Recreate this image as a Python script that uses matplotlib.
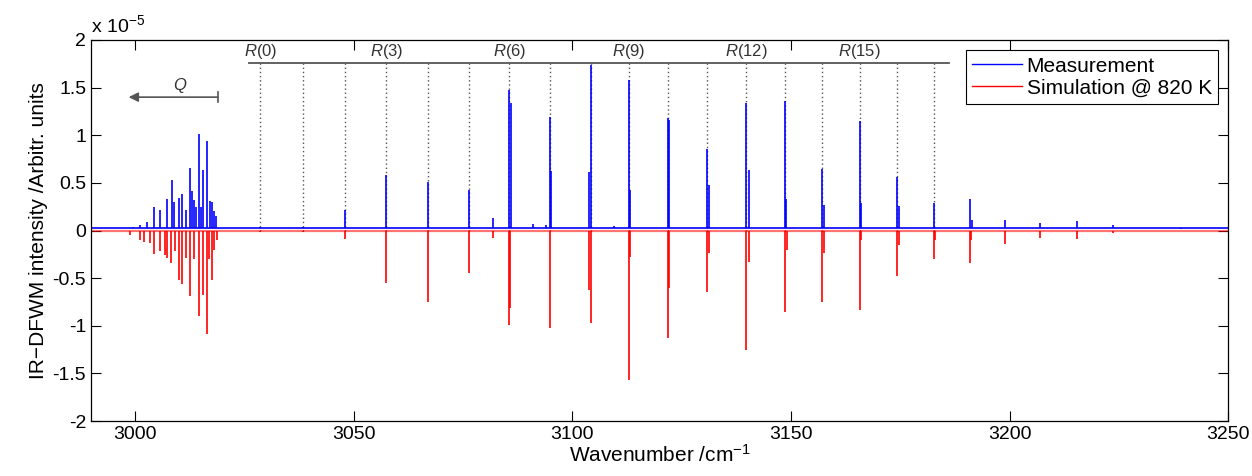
import numpy as np
import matplotlib.pyplot as plt

plt.rcParams['font.family'] = ['Liberation Sans', 'DejaVu Sans']
plt.rcParams['mathtext.fontset'] = 'custom'
plt.rcParams['mathtext.rm'] = 'Liberation Sans'
plt.rcParams['mathtext.it'] = 'Liberation Sans:italic'
plt.rcParams['axes.unicode_minus'] = False

# measured peaks (cm^-1, intensity in 1e-5)
meas_pos = [2997.8, 2999.5, 3001.1, 3002.8, 3004.5, 3005.7, 3007.4, 3008.4, 3008.9,
            3010.0, 3010.8, 3011.6, 3012.55, 3013.1, 3013.6, 3014.1, 3014.7, 3015.2,
            3015.7, 3016.5, 3017.1, 3017.7, 3018.2, 3018.6,
            3028.7, 3038.5, 3048.0, 3057.5, 3067.1, 3076.4, 3082.0,
            3085.6, 3085.9, 3091.1, 3093.9, 3094.9, 3095.2, 3103.9, 3104.2, 3109.6,
            3112.9, 3113.2, 3121.9, 3122.1, 3130.8, 3131.3, 3139.8, 3140.3,
            3148.6, 3148.9, 3157.2, 3157.6, 3165.7, 3166.0, 3174.3, 3174.7,
            3182.6, 3190.9, 3191.3, 3199.0, 3207.0, 3215.3, 3223.6, 3230.5, 3239.1]
meas_height = [0.03, 0.04, 0.06, 0.09, 0.245, 0.22, 0.33, 0.527, 0.30,
               0.34, 0.38, 0.21, 0.66, 0.41, 0.32, 0.25, 1.013, 0.25,
               0.635, 0.94, 0.31, 0.30, 0.20, 0.15,
               0.04, 0.04, 0.22, 0.58, 0.51, 0.425, 0.13,
               1.475, 1.34, 0.07, 0.06, 1.19, 0.62, 0.61, 1.74, 0.05,
               1.58, 0.43, 1.18, 1.16, 0.86, 0.48, 1.335, 0.635,
               1.36, 0.33, 0.65, 0.27, 1.15, 0.29, 0.565, 0.26,
               0.285, 0.33, 0.11, 0.11, 0.075, 0.10, 0.06, 0.03, 0.02]

# simulated peaks (drawn downwards)
sim_pos = [2999.0, 3001.3, 3002.0, 3003.4, 3004.4, 3005.7, 3007.0, 3007.4, 3008.3,
           3009.1, 3010.0, 3010.8, 3011.6, 3012.55, 3013.5, 3014.6, 3015.6, 3016.4,
           3017.0, 3017.7, 3018.2, 3018.7,
           3028.7, 3038.5, 3048.0, 3057.5, 3067.1, 3076.4, 3082.0,
           3085.6, 3085.8, 3094.9, 3103.9, 3104.2, 3112.9, 3113.2,
           3121.9, 3122.2, 3130.8, 3131.3, 3139.8, 3140.3, 3148.6, 3149.0,
           3157.2, 3157.6, 3165.7, 3166.0, 3174.3, 3174.7, 3182.6, 3182.9,
           3190.9, 3191.2, 3199.0, 3207.0, 3215.3, 3223.6]
sim_height = [-0.05, -0.10, -0.12, -0.13, -0.25, -0.215, -0.257, -0.29, -0.34,
              -0.22, -0.52, -0.565, -0.29, -0.69, -0.30, -0.90, -0.68, -1.087,
              -0.30, -0.52, -0.20, -0.10,
              -0.02, -0.02, -0.09, -0.548, -0.747, -0.45, -0.08,
              -0.99, -0.81, -1.02, -0.625, -0.968, -1.57, -0.275,
              -1.13, -0.60, -0.65, -0.24, -1.25, -0.33, -0.86, -0.20,
              -0.75, -0.24, -0.835, -0.10, -0.48, -0.15, -0.30, -0.10,
              -0.345, -0.10, -0.145, -0.08, -0.09, -0.03]

# R-branch assignment lines
r_pos = [3028.7, 3038.5, 3048.0, 3057.5, 3067.1, 3076.4, 3085.6, 3094.9, 3104.2,
         3112.9, 3121.9, 3130.8, 3139.8, 3148.6, 3157.2, 3165.7, 3174.3, 3182.6]
r_labels = {0: '$R$(0)', 3: '$R$(3)', 6: '$R$(6)', 9: '$R$(9)', 12: '$R$(12)', 15: '$R$(15)'}

meas_base = 0.025
sim_base = -0.01
xmin, xmax = 2990, 3250

fig = plt.figure(figsize=(12.52, 4.76), dpi=100)
ax = fig.add_axes([0.0727, 0.1155, 0.9085, 0.8005])

gray = '#555555'
# dotted assignment lines and bracket
ax.vlines(r_pos, 0, 1.755, colors=gray, linestyles=(0, (1, 2)), linewidth=1)
ax.plot([3026.2, 3186.1], [1.755, 1.755], color=gray, lw=1.3)
for i, lab in r_labels.items():
    ax.text(r_pos[i], 1.875, lab, ha='center', va='center', fontsize=12, color='#333333')

# Q branch arrow
ax.annotate('', xy=(2998.6, 1.40), xytext=(3019.0, 1.40),
            arrowprops=dict(arrowstyle='-|>', color=gray, lw=1.2, mutation_scale=14,
                            shrinkA=0, shrinkB=0))
ax.plot([3019.0, 3019.0], [1.35, 1.45], color=gray, lw=1.2)
ax.text(3010.3, 1.52, '$Q$', ha='center', va='center', fontsize=12, color='#333333')

# spectra
ax.plot([xmin, xmax], [sim_base, sim_base], color='#ff0000', lw=1.6, alpha=0.55)
ax.vlines(sim_pos, sim_base, sim_height, colors='#ff0000', lw=1.2)
ax.plot([xmin, xmax], [meas_base, meas_base], color='#0000ff', lw=1.2)
ax.vlines(meas_pos, meas_base, meas_height, colors='#0000ff', lw=1.2)

ax.plot([], [], color='#0000ff', lw=1, label='Measurement')
ax.plot([], [], color='#ff0000', lw=1, label='Simulation @ 820 K')
leg = ax.legend(loc='upper right', fontsize=15, handlelength=2.4, handletextpad=0.2,
                borderpad=0.3, labelspacing=0.15, fancybox=False, framealpha=1,
                edgecolor='black', borderaxespad=0.5)
leg.get_frame().set_linewidth(0.8)

ax.set_xlim(xmin, xmax)
ax.set_ylim(-2, 2)
ax.set_xticks([3000, 3050, 3100, 3150, 3200, 3250])
ax.set_yticks([-2, -1.5, -1, -0.5, 0, 0.5, 1, 1.5, 2])
ax.set_yticklabels(['-2', '-1.5', '-1', '-0.5', '0', '0.5', '1', '1.5', '2'])
ax.tick_params(direction='in', top=True, right=True, length=7, width=0.8, labelsize=14)
for s in ax.spines.values():
    s.set_linewidth(0.9)

ax.text(0.0, 1.01, 'x 10$^{-5}$', transform=ax.transAxes, ha='left', va='bottom', fontsize=14)
ax.set_xlabel('Wavenumber /cm$^{-1}$', fontsize=15, labelpad=1)
ax.set_ylabel('IR\u2212DFWM intensity /Arbitr. units', fontsize=15, labelpad=3)

fig.savefig('out.png', dpi=100)
